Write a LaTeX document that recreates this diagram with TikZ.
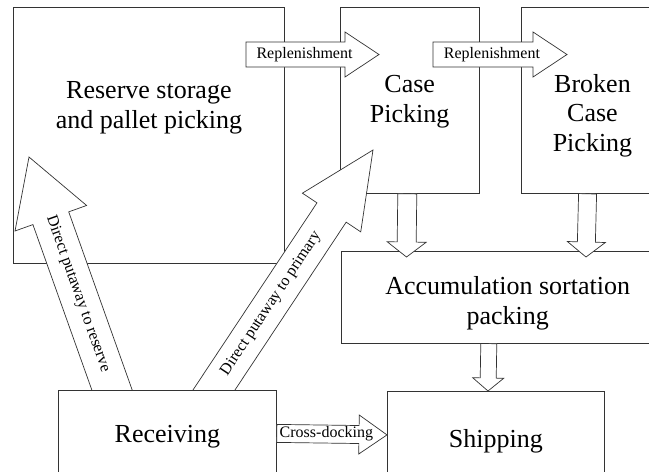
\documentclass[tikz,border=0pt]{standalone}
\usepackage{fontspec}
\setmainfont{Liberation Serif}
\usetikzlibrary{positioning, calc}
\tikzstyle{box} = [rectangle, draw=black!80, line width=0.8pt, fill=white, align=center, inner sep=0pt, font=\fontsize{26}{29.5}\selectfont]
\tikzstyle{lbl} = [inner sep=0pt, font=\fontsize{16}{18}\selectfont]
\tikzset{
  fat/.style n args={3}{draw=black!80, line width=0.7pt, fill=white, to path={
      ($(\tikztotarget)!#3!(\tikztostart)$) coordinate (hb)
      ($(\tikztostart)!#1!90:(\tikztotarget)$) -- ($(hb)!#1!90:(\tikztotarget)$)
      -- ($(hb)!#2!90:(\tikztotarget)$) -- (\tikztotarget)
      -- ($(hb)!#2!-90:(\tikztotarget)$) -- ($(hb)!#1!-90:(\tikztotarget)$)
      -- ($(\tikztostart)!#1!-90:(\tikztotarget)$) -- cycle}}
}

\begin{document}
\begin{tikzpicture}[x=1pt, y=-1pt]
        \useasboundingbox (0,0) rectangle (649,472);
        \clip (0,0) rectangle (649,472);

        \node (reserve) [box, text height=0pt, text depth=14pt, minimum width=271pt, minimum height=256pt, anchor=north west] at (13,7) {Reserve storage\\and pallet picking};
        \node (casepick) [box, text height=44pt, text depth=0pt, minimum width=139pt, minimum height=186pt, right=55pt of reserve.north east, anchor=north west] {Case\\Picking};
        \node (broken) [box, text height=102pt, text depth=0pt, minimum width=143pt, minimum height=186pt, right=41pt of casepick.north east, anchor=north west] {Broken\\Case\\Picking};
        \node (accum) [box, text height=54pt, text depth=0pt, minimum width=333pt, minimum height=92pt, below=57pt of casepick.south west, anchor=north west, xshift=1pt] {Accumulation sortation\\packing};
        \node (shipping) [box, text height=25pt, text depth=0pt, minimum width=217pt, minimum height=87pt, anchor=north west] at (387,391) {Shipping};

        % fat arrows
        \coordinate (rp1) at (246,54.5);
        \coordinate (rp1-tip) at (379,54.5);
        \coordinate (rp2) at (433,54.5);
        \coordinate (rp2-tip) at (567,54.5);
        \coordinate (cp-tip) at (406.5,257);
        \coordinate (bc-tip) at (586,257);
        \coordinate (putres) at (122,418);
        \coordinate (putres-tip) at (29,157);
        \coordinate (putpri) at (197.4,415);
        \coordinate (putpri-tip) at (373,150);

        \draw [fat={12.5pt}{22.5pt}{34pt}] (rp1) to (rp1-tip);
        \draw [fat={12.5pt}{22.5pt}{34pt}] (rp2) to (rp2-tip);
        \draw [fat={9.5pt}{19.5pt}{15pt}] ([xshift=67.5pt]casepick.south west) to (cp-tip);
        \draw [fat={9pt}{19pt}{15pt}] ([xshift=67pt]broken.south west) to (bc-tip);
        \draw [fat={8pt}{15.5pt}{13pt}] ([xshift=148pt]accum.south west) to ([xshift=101pt]shipping.north west);
        \draw [fat={19pt}{38pt}{65pt}] (putres) to (putres-tip);
        \draw [fat={17.5pt}{35pt}{75pt}] (putpri) to (putpri-tip);

        \path (rp1) -- node[lbl, pos=0.44] {Replenishment} (rp1-tip);
        \path (rp2) -- node[lbl, pos=0.44] {Replenishment} (rp2-tip);
        \path (putres-tip) -- node[lbl, sloped, pos=0.525] {Direct putaway to reserve} (putres);
        \path (putpri) -- node[lbl, sloped, pos=0.42] {Direct putaway to primary} (putpri-tip);

        \node (receiving) [box, text height=20pt, text depth=0pt, minimum width=218pt, minimum height=84pt, anchor=north west] at (58,390) {Receiving};
        \draw [fat={9pt}{19.5pt}{28pt}] ([yshift=-1pt]receiving.east) to (shipping.west);
        \path ([yshift=-1pt]receiving.east) -- node[lbl, pos=0.45] {Cross-docking} (shipping.west);

        \end{tikzpicture}
\end{document}
